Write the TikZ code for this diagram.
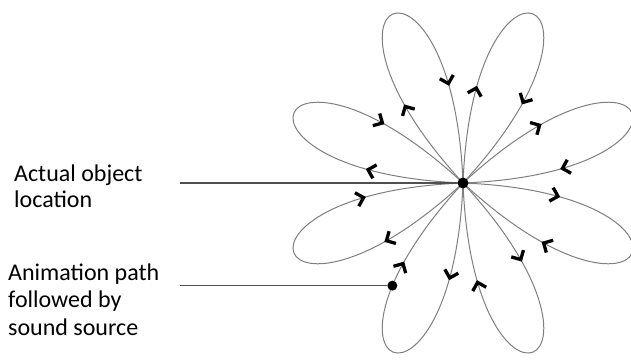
\documentclass[tikz,border=0pt]{standalone}
\usepackage{fontspec}
\setmainfont{Carlito}
\usetikzlibrary{decorations.markings,arrows.meta}
\definecolor{petalgray}{HTML}{7F7F7F}
\definecolor{leadgray}{HTML}{505050}
\tikzset{
  barb/.tip={Straight Barb[length=7pt,width=14pt,line width=3.3pt,color=black]},
  petal/.style={draw=petalgray, line width=1pt, postaction={decorate},
    decoration={markings,
      mark=at position 0.25 with {\arrow{barb}},
      mark=at position 0.75 with {\arrow{barb}}}},
  leader/.style={draw=leadgray, line width=1.4pt},
  dot/.style={circle, fill=black, inner sep=0pt, minimum size=11pt},
  lblA/.style={font=\fontsize{24}{25.5}\selectfont, align=left, inner sep=0pt, anchor=base west},
  lblB/.style={font=\fontsize{24}{27.5}\selectfont, align=left, inner sep=0pt, anchor=base west}
}
\begin{document}
\begin{tikzpicture}[x=1pt,y=1pt]
\useasboundingbox (0,0) rectangle (631,360);
\coordinate (ctr) at (463,177);
\foreach \a [count=\i] in {22.5,67.5,112.5,157.5,202.5,247.5,292.5,337.5} {
  \begin{scope}[shift={(ctr)}, rotate=\a]
    \draw[petal] (0,0) .. controls (244,90) and (244,-90) .. (0,0) coordinate[pos=0.789] (q\i);
  \end{scope}
}
\node[dot] (c) at (ctr) {};
\node[dot, minimum size=10pt] (s) at (q6) {};
\coordinate (l1) at (180,177);
\coordinate (l2) at (s -| l1);
\draw[leader] (l1) -- (c);
\draw[leader] (l2) -- (s);
\node[lblA] (t1) at (14,153) {Actual object\\location};
\node[lblB] (t2) at (8,25) {Animation path\\followed by\\sound source};
\end{tikzpicture}
\end{document}
